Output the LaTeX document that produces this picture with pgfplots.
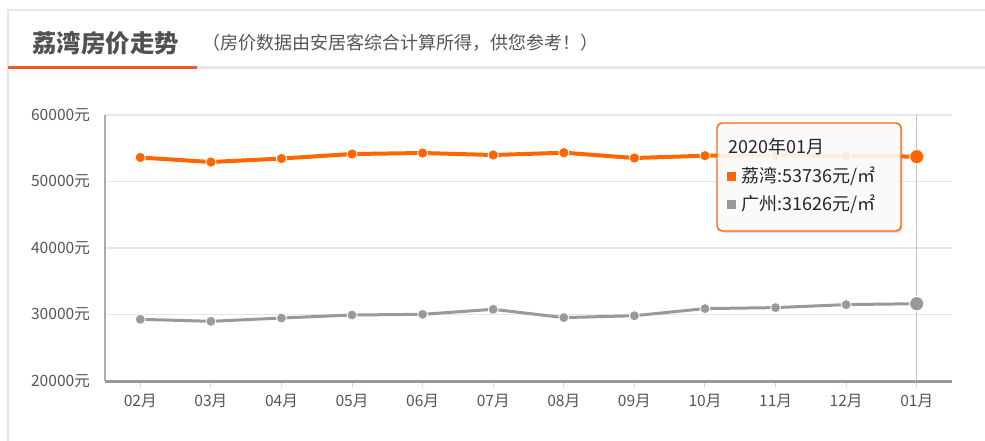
\documentclass[border=0pt]{standalone}
\usepackage{pgfplots}
\pgfplotsset{compat=1.18}
\usepackage{fontspec}
\setmainfont{Noto Sans CJK SC}
\usetikzlibrary{shadows}
\definecolor{lworange}{HTML}{FF6600}
\definecolor{gzgray}{HTML}{999999}
\definecolor{titleorange}{HTML}{F05A24}
\definecolor{framegray}{HTML}{E6E6E6}
\definecolor{txtgray}{HTML}{555555}
\definecolor{ticktint}{HTML}{CCD6EB}
\begin{document}
\begin{tikzpicture}
\path[use as bounding box] (0,0) rectangle (492.5pt,-220pt);
\begin{scope}[x=0.5pt,y=-0.5pt]
  % frame
  \draw[framegray, line width=1pt] (8,220*2+2) -- (8,10) -- (990,10);
  \draw[framegray, line width=1.5pt] (8,67.5) -- (990,67.5);
  \draw[titleorange, line width=1.5pt] (8,67.5) -- (197,67.5);
  \node[anchor=west, inner sep=0pt, text=txtgray!95!black] at (32,43) {\fontsize{12.2}{14}\selectfont\bfseries 荔湾房价走势};
  \node[anchor=west, inner sep=0pt, text=txtgray] at (202,43) {\fontsize{9}{10}\selectfont （房价数据由安居客综合计算所得，供您参考！）};
\end{scope}
\begin{axis}[
  at={(52.5pt,-190.5pt)}, anchor=south west,
  scale only axis, width=423.5pt, height=133pt,
  xmin=-0.5, xmax=11.5, ymin=20000, ymax=60000,
  scaled y ticks=false,
  xtick={0,...,11},
  xticklabels={02月,03月,04月,05月,06月,07月,08月,09月,10月,11月,12月,01月},
  ytick={20000,30000,40000,50000,60000},
  yticklabels={20000元,30000元,40000元,50000元,60000元},
  axis x line*=bottom, axis y line*=left,
  x axis line style={gzgray, line width=1.5pt},
  y axis line style={gzgray!80, line width=1pt},
  ymajorgrids, grid style={color=framegray, line width=0.7pt},
  tick align=outside,
  xtick style={color=ticktint, line width=0.5pt},
  major tick length=3pt,
  ytick style={draw=none},
  ticklabel style={font=\fontsize{7.8}{9}\selectfont, text=txtgray},
  yticklabel style={xshift=-1pt},
  clip=false,
]
\draw[gzgray!60, line width=0.6pt] (axis cs:11,20000) -- (axis cs:11,60000);
\addplot[color=gzgray, line width=1.5pt, mark=*, mark size=2.5pt, mark options={draw=white, line width=0.4pt, fill=gzgray}]
  coordinates {(0,29278) (1,28977) (2,29474) (3,29925) (4,30030) (5,30782) (6,29534) (7,29820) (8,30887) (9,31038) (10,31489) (11,31626)};
\addplot[color=lworange, line width=2pt, mark=*, mark size=2.6pt, mark options={draw=white, line width=0.4pt, fill=lworange}]
  coordinates {(0,53609) (1,52932) (2,53459) (3,54135) (4,54286) (5,53985) (6,54331) (7,53534) (8,53880) (9,53940) (10,53880) (11,53736)};
\addplot[only marks, mark=*, mark size=3.6pt, mark options={draw=white, line width=0.5pt, fill=gzgray}]
  coordinates {(11,31626)};
\addplot[only marks, mark=*, mark size=3.6pt, mark options={draw=white, line width=0.5pt, fill=lworange}]
  coordinates {(11,53736)};
\end{axis}
\begin{scope}[x=0.5pt,y=-0.5pt]
  \draw[lworange, line width=0.7pt, rounded corners=2.5pt, fill=white, fill opacity=0.88, drop shadow={opacity=0.25, shadow xshift=1pt, shadow yshift=-1pt}] (717,123) rectangle (901,231);
  \node[anchor=west, inner sep=0pt, text=black!85] at (728,147) {\fontsize{9}{10}\selectfont 2020年01月};
  \fill[lworange] (727,172) rectangle (736,181);
  \node[anchor=west, inner sep=0pt, text=black!85] at (741,176.5) {\fontsize{9}{10}\selectfont 荔湾:53736元/㎡};
  \fill[gzgray] (727,200) rectangle (736,209);
  \node[anchor=west, inner sep=0pt, text=black!85] at (741,204.5) {\fontsize{9}{10}\selectfont 广州:31626元/㎡};
\end{scope}
\end{tikzpicture}
\end{document}
